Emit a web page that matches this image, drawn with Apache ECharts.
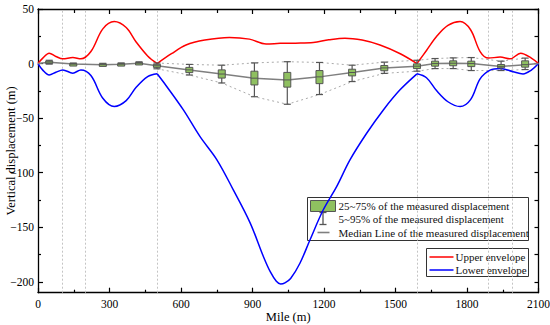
<!DOCTYPE html>
<html>
<head>
<meta charset="utf-8">
<script src="https://cdn.jsdelivr.net/npm/echarts@6/dist/echarts.min.js"></script>
<style>html,body{margin:0;padding:0;background:#fff}#c{width:550px;height:325px}</style>
</head>
<body>
<div id="c"></div>
<script>
// ---- data ----
const boxMiles = [47,148,272,349,424,499,635,771,908,1046,1181,1318,1453,1590,1666,1742,1818,1943,2044];
const p5  = [-0.5,-1.5,-2,-1.8,-0.8,-4.8,-10.5,-17.8,-30.4,-37.3,-28.4,-16.5,-9,-7,-4.6,-4.6,-6.4,-6.4,-5.5];
const p25 = [0.3,-1,-1.7,-1.3,-0.4,-3.5,-8.3,-13.3,-19.6,-21.6,-18.4,-11.3,-6.6,-4.6,-2.4,-2,-2.8,-3.9,-3.3];
const p50 = [1.3,-0.5,-1,-0.6,0.3,-2,-5.8,-9.6,-13.4,-15,-12.2,-8.2,-4,-2.4,0,0.3,0,-2.6,-1];
const p75 = [2.3,0,-0.3,0,1,-0.7,-3.5,-5.8,-7,-8.1,-6.4,-5.2,-1.8,-0.3,2.2,2.5,2.2,-0.9,2.5];
const p95 = [3,0.5,0.2,0.6,1.6,0.5,-0.8,-1.5,0.6,1.7,1,-1.5,1.3,3,4.6,5.2,5.5,2.2,5];

const upperMiles = [0,20,47,75,104,146,180,222,272,320,370,411,460,500,560,621,700,803,887,957,1016,1080,1155,1220,1288,1360,1435,1520,1590,1630,1673,1720,1771,1815,1855,1890,1939,1981,2025,2070,2100];
const upperVals  = [0,5,9.5,6.5,4.3,5.5,4.3,11,31.8,38.5,33,20,7,0,9,17,21.5,23.9,22.4,18,18.5,18.7,19.3,21.8,23.3,21.5,17,9,0,12,25,35,38.5,31,11,5,5.9,4.3,9.5,5,0];

const lowerMiles = [0,20,47,75,104,146,180,222,272,320,370,411,460,500,540,610,680,750,820,890,946,975,1000,1018,1036,1060,1099,1141,1197,1253,1309,1379,1449,1519,1590,1630,1673,1720,1771,1815,1855,1897,1940,1993,2035,2070,2100];
const lowerVals  = [0,-6,-10.4,-8,-5.8,-8.8,-5.8,-11,-31.8,-39.4,-34,-22,-12,-9.4,-21,-42.5,-67,-88,-116,-146,-177,-191,-199.5,-202,-201,-197,-183,-161.7,-134,-112.8,-88.3,-63.9,-42.5,-24.1,-9.4,-13,-25,-35,-39.4,-33,-14,-6,-4.5,-7.5,-9.5,-6,0];

const cuspMiles = [500, 1590];
const refLineMiles = [100, 200, 500, 1590, 1890, 1990];

const xTicks = [0,300,600,900,1200,1500,1800,2100];
const yMajor = [-200,-150,-100,-50,0,50];
const yMinor = [-175,-125,-75,-25,25];

const boxLegendLabels = ['25~75% of the measured displacement','5~95% of the measured displacement','Median Line of the measured displacement'];
const envLegendLabels = ['Upper envelope','Lower envelope'];
const xName = 'Mile (m)';
const yName = 'Vertical displacement (m)';

// ---- build ----
const FONT = 'Liberation Serif';
const GREEN = '#8fc060';
const EDGE = '#555555';
const LEGEND_FONT = '11px "Liberation Serif"';

function segments(miles, vals){
  const segs = []; let cur = [];
  miles.forEach((m,i)=>{
    cur.push([m, vals[i]]);
    if (cuspMiles.includes(m) && cur.length > 1){ segs.push(cur); cur = [[m, vals[i]]]; }
  });
  if (cur.length > 1) segs.push(cur);
  return segs;
}

const series = [];
segments(upperMiles, upperVals).forEach(seg=>series.push({
  type:'line', name:'Upper envelope', data:seg, smooth:0.35, symbol:'none',
  lineStyle:{color:'#ff0000', width:1.5}, z:3
}));
segments(lowerMiles, lowerVals).forEach(seg=>series.push({
  type:'line', name:'Lower envelope', data:seg, smooth:0.35, symbol:'none',
  lineStyle:{color:'#0000ff', width:1.5}, z:3
}));

const startIdx = boxMiles.indexOf(499);
series.push({
  type:'line', name:'upper dotted', symbol:'none',
  data: boxMiles.slice(startIdx).map((m,i)=>[m, p95[startIdx+i]]),
  lineStyle:{color:'#aaaaaa', width:1, type:[2,3]}, z:2
});
series.push({
  type:'line', name:'lower dotted', symbol:'none',
  data: boxMiles.slice(startIdx).map((m,i)=>[m, p5[startIdx+i]]),
  lineStyle:{color:'#aaaaaa', width:1, type:[2,3]}, z:2
});

series.push({
  type:'line', name:'Median', symbol:'none',
  data: [[0,0]].concat(boxMiles.map((m,i)=>[m, p50[i]])).concat([[2100,0]]),
  lineStyle:{color:'#7f7f7f', width:1.5}, z:4,
  markLine:{
    silent:true, symbol:'none', label:{show:false},
    lineStyle:{color:'#c4c4c4', width:1, type:[2,2]},
    data: refLineMiles.map(m=>({xAxis:m})), z:1
  }
});

series.push({
  type:'custom', name:'box', z:5,
  data: boxMiles.map((m,i)=>[m,p5[i],p25[i],p50[i],p75[i],p95[i]]),
  encode:{x:0, y:[1,2,3,4,5]},
  renderItem:function(params, api){
    const x = api.value(0);
    const pMin = api.coord([x, api.value(1)]);
    const pQ1 = api.coord([x, api.value(2)]);
    const pMed = api.coord([x, api.value(3)]);
    const pQ3 = api.coord([x, api.value(4)]);
    const pMax = api.coord([x, api.value(5)]);
    const cx = pMed[0], bw = 7, cw = 7;
    const st = {stroke:EDGE, lineWidth:1.2, fill:null};
    return {type:'group', children:[
      {type:'line', shape:{x1:cx,y1:pMax[1],x2:cx,y2:pMin[1]}, style:st},
      {type:'line', shape:{x1:cx-cw/2,y1:pMax[1],x2:cx+cw/2,y2:pMax[1]}, style:st},
      {type:'line', shape:{x1:cx-cw/2,y1:pMin[1],x2:cx+cw/2,y2:pMin[1]}, style:st},
      {type:'rect', shape:{x:cx-bw/2, y:pQ3[1], width:bw, height:Math.max(pQ1[1]-pQ3[1],2.5)}, style:{fill:GREEN, stroke:EDGE, lineWidth:1}},
      {type:'line', shape:{x1:cx-bw/2,y1:pMed[1],x2:cx+bw/2,y2:pMed[1]}, style:{stroke:EDGE, lineWidth:1}}
    ]};
  }
});

const axisLineStyle = {color:'#000', width:1.3};
const labelStyle = {color:'#000', fontFamily:FONT, fontSize:11.5};
const minus = v => String(v).replace('-', '\u2212');

const option = {
  backgroundColor:'#fff',
  animation:false,
  grid:{left:38, right:11.5, top:9, bottom:32.3, containLabel:false, outerBoundsMode:'none'},
  xAxis:[
    {type:'value', position:'bottom', min:0, max:2100, interval:300,
     axisLine:{onZero:false, lineStyle:axisLineStyle},
     axisTick:{inside:true, length:5, lineStyle:{color:'#000', width:1.2}},
     minorTick:{show:true, splitNumber:2, length:3, lineStyle:{color:'#000', width:1.2}},
     splitLine:{show:false}, minorSplitLine:{show:false},
     axisLabel:Object.assign({margin:5, formatter:v=>String(v)}, labelStyle),
     name:xName, nameLocation:'middle', nameGap:18, nameMoveOverlap:false,
     nameTextStyle:{color:'#000', fontFamily:FONT, fontSize:12.5}},
    {type:'value', position:'top', min:0, max:2100, interval:300,
     axisLine:{onZero:false, lineStyle:axisLineStyle},
     axisTick:{inside:true, length:5, lineStyle:{color:'#000', width:1.2}},
     minorTick:{show:true, splitNumber:2, length:4, lineStyle:{color:'#000', width:1.2}},
     splitLine:{show:false}, axisLabel:{show:false}}
  ],
  yAxis:[
    {type:'value', position:'left', min:-210, max:50,
     axisLine:{show:true, onZero:false, lineStyle:axisLineStyle},
     axisTick:{show:true, inside:true, length:5, customValues:yMajor, lineStyle:{color:'#000', width:1.2}},
     splitLine:{show:false},
     axisLabel:Object.assign({margin:4, customValues:yMajor, formatter:minus}, labelStyle),
     name:yName, nameLocation:'middle', nameGap:21, nameMoveOverlap:false,
     nameTextStyle:{color:'#000', fontFamily:FONT, fontSize:12.5}},
    {type:'value', position:'left', min:-210, max:50,
     axisLine:{show:false}, splitLine:{show:false}, axisLabel:{show:false},
     axisTick:{show:true, inside:true, length:3, customValues:yMinor, lineStyle:{color:'#000', width:1.2}}},
    {type:'value', position:'right', min:-210, max:50,
     axisLine:{show:true, onZero:false, lineStyle:axisLineStyle},
     axisTick:{show:true, inside:true, length:4, customValues:yMajor.concat(yMinor), lineStyle:{color:'#000', width:1.2}},
     splitLine:{show:false}, axisLabel:{show:false}}
  ],
  series: series,
  graphic:[
    {type:'group', left:307, top:197, z:100, children:[
      {type:'rect', shape:{x:0,y:0,width:221,height:43}, style:{fill:'#fff', stroke:'#333', lineWidth:1}},
      {type:'rect', shape:{x:3,y:3,width:25,height:11}, style:{fill:GREEN, stroke:EDGE, lineWidth:1}},
      {type:'line', shape:{x1:15.5,y1:15,x2:15.5,y2:27}, style:{stroke:EDGE, lineWidth:1.3}},
      {type:'line', shape:{x1:12,y1:15,x2:19,y2:15}, style:{stroke:EDGE, lineWidth:1.3}},
      {type:'line', shape:{x1:12,y1:27,x2:19,y2:27}, style:{stroke:EDGE, lineWidth:1.3}},
      {type:'line', shape:{x1:10,y1:35,x2:22,y2:35}, style:{stroke:'#7f7f7f', lineWidth:1.6}},
      {type:'text', x:31, y:8.5, style:{text:boxLegendLabels[0], fill:'#111', font:LEGEND_FONT, verticalAlign:'middle'}},
      {type:'text', x:31, y:21.5, style:{text:boxLegendLabels[1], fill:'#111', font:LEGEND_FONT, verticalAlign:'middle'}},
      {type:'text', x:31, y:35, style:{text:boxLegendLabels[2], fill:'#111', font:LEGEND_FONT, verticalAlign:'middle'}}
    ]},
    {type:'group', left:426, top:248, z:100, children:[
      {type:'rect', shape:{x:0,y:0,width:102,height:28}, style:{fill:'#fff', stroke:'#333', lineWidth:1}},
      {type:'line', shape:{x1:3,y1:8.5,x2:27,y2:8.5}, style:{stroke:'#ff0000', lineWidth:1.5}},
      {type:'line', shape:{x1:3,y1:21.5,x2:27,y2:21.5}, style:{stroke:'#0000ff', lineWidth:1.5}},
      {type:'text', x:29, y:8.5, style:{text:envLegendLabels[0], fill:'#111', font:LEGEND_FONT, verticalAlign:'middle'}},
      {type:'text', x:29, y:21.5, style:{text:envLegendLabels[1], fill:'#111', font:LEGEND_FONT, verticalAlign:'middle'}}
    ]}
  ]
};

const chart = echarts.init(document.getElementById('c'), null, {renderer:'svg'});
chart.setOption(option);
</script>
</body>
</html>
